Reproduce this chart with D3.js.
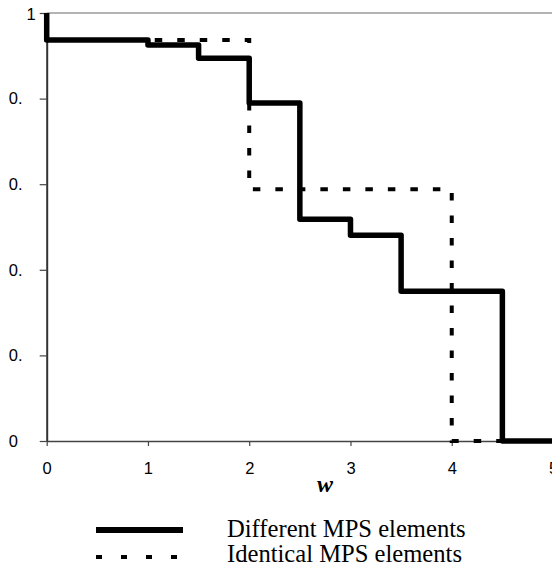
<!DOCTYPE html>
<html>
<head>
<meta charset="utf-8">
<script src="https://cdn.jsdelivr.net/npm/d3@7"></script>
<style>
  html, body { margin: 0; padding: 0; background: #fff; }
  svg { display: block; }
</style>
</head>
<body>
<svg id="chart" width="552" height="570"></svg>
<script>
// ---- data ----
const xTicks = [0, 1, 2, 3, 4, 5];
const xTickLabels = ["0", "1", "2", "3", "4", "5"];
const yTicks = [0, 0.2, 0.4, 0.6, 0.8, 1];
const yTickLabels = ["0", "0.", "0.", "0.", "0.", "1"];

const diffX = [0, 0, 1, 1.5, 2, 2.5, 3, 3.5, 4.5, 5];
const diffY = [1, 0.937, 0.925, 0.894, 0.79, 0.518, 0.481, 0.35, 0, 0];

const identX = [0, 0, 2, 4, 5];
const identY = [1, 0.937, 0.588, 0, 0];

const seriesNames = ["Different MPS elements", "Identical MPS elements"];
const xTitle = "w";

// ---- layout ----
const svg = d3.select("#chart");
const x = d3.scaleLinear().domain([0, 5]).range([46.7, 553]);
const y = d3.scaleLinear().domain([0, 1]).range([441, 13]);
const sans = "'Liberation Sans', Arial, sans-serif";
const serif = "'Liberation Serif', 'Times New Roman', serif";

// top gray border line (y = 1)
svg.append("line")
  .attr("x1", x(0)).attr("x2", 552)
  .attr("y1", y(1)).attr("y2", y(1))
  .attr("stroke", "#9a9a9a").attr("stroke-width", 1.5);

// x axis
const gx = svg.append("g").attr("transform", `translate(0,${y(0)})`)
  .call(d3.axisBottom(x).tickValues(xTicks).tickFormat((d, i) => xTickLabels[i]).tickSize(5).tickPadding(16).tickSizeOuter(0));
gx.attr("font-size", 16.5).attr("font-family", sans);
gx.select(".domain").attr("stroke", "#444").attr("stroke-width", 1.5);
gx.selectAll(".tick line").attr("stroke", "#444").attr("stroke-width", 1.2);
gx.selectAll("text").style("font-family", sans).style("font-size", "16.5px").attr("fill", "#000");

// y axis
const gy = svg.append("g").attr("transform", `translate(${x(0)},0)`)
  .call(d3.axisLeft(y).tickValues(yTicks).tickFormat((d, i) => yTickLabels[i]).tickSize(7).tickSizeOuter(0));
gy.attr("font-size", 16.5).attr("font-family", sans);
gy.select(".domain").attr("stroke", "#333").attr("stroke-width", 2);
gy.selectAll(".tick line").attr("stroke", "#444").attr("stroke-width", 1.2);
gy.selectAll("text")
  .style("font-family", sans).style("font-size", "16.5px").attr("fill", "#000")
  .each(function(d, i) {
    const t = d3.select(this);
    if (yTickLabels[i] === "1") {
      t.attr("text-anchor", "end").attr("x", -11).attr("dy", "0.42em");
    } else {
      t.attr("text-anchor", "start").attr("x", -38);
    }
  });

// x title
svg.append("text")
  .attr("x", 325).attr("y", 492)
  .attr("text-anchor", "middle")
  .style("font-family", serif)
  .style("font-style", "italic").style("font-weight", "bold")
  .style("font-size", "24px")
  .text(xTitle);

// lines
const line = d3.line().x(d => x(d[0])).y(d => y(d[1])).curve(d3.curveStepAfter);
const identData = identX.map((v, i) => [v, identY[i]]);
const diffData = diffX.map((v, i) => [v, diffY[i]]);

svg.append("path")
  .attr("d", line(identData))
  .attr("fill", "none").attr("stroke", "#000")
  .attr("stroke-width", 4)
  .attr("stroke-dasharray", "7.5,15");

svg.append("path")
  .attr("d", line(diffData))
  .attr("fill", "none").attr("stroke", "#000")
  .attr("stroke-width", 5.5)
  .attr("stroke-linejoin", "round");

// legend
const legend = svg.append("g");
legend.append("line")
  .attr("x1", 96).attr("x2", 183).attr("y1", 530).attr("y2", 530)
  .attr("stroke", "#000").attr("stroke-width", 6);
legend.append("line")
  .attr("x1", 96).attr("x2", 180).attr("y1", 557).attr("y2", 557)
  .attr("stroke", "#000").attr("stroke-width", 4)
  .attr("stroke-dasharray", "6,19");
legend.selectAll("text.lg")
  .data(seriesNames)
  .enter().append("text")
  .attr("class", "lg")
  .attr("x", 227)
  .attr("y", (d, i) => 537 + i * 25)
  .style("font-family", serif)
  .style("font-size", "24.6px")
  .text(d => d);
</script>
</body>
</html>
